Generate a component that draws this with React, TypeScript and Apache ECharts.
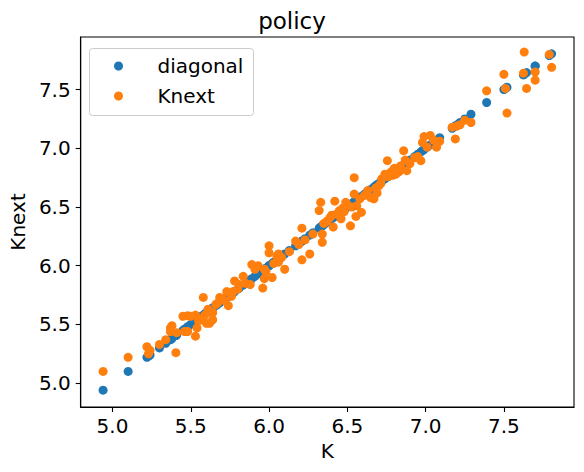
import React, { useEffect, useRef } from "react";
import * as echarts from "echarts";

const K: number[] = [
  4.94, 5.1, 5.22, 5.23, 5.24, 5.3, 5.34, 5.37, 5.37, 5.38, 5.405, 5.41, 5.45, 5.46, 5.48, 5.48,
  5.5, 5.53, 5.53, 5.54, 5.55, 5.57, 5.58, 5.59, 5.6, 5.61, 5.62, 5.64, 5.64, 5.66, 5.67, 5.685,
  5.7, 5.72, 5.73, 5.74, 5.76, 5.77, 5.78, 5.8, 5.81, 5.835, 5.85, 5.88, 5.89, 5.91, 5.93, 5.96,
  5.97, 5.97, 5.98, 6.0, 6.0, 6.02, 6.03, 6.05, 6.06, 6.06, 6.08, 6.1, 6.13, 6.17, 6.19, 6.21,
  6.21, 6.23, 6.26, 6.28, 6.32, 6.33, 6.34, 6.34, 6.35, 6.37, 6.39, 6.4, 6.41, 6.42, 6.43, 6.45,
  6.46, 6.47, 6.48, 6.49, 6.5, 6.52, 6.53, 6.544, 6.544, 6.555, 6.56, 6.58, 6.59, 6.61, 6.63, 6.65,
  6.67, 6.68, 6.69, 6.7, 6.714, 6.72, 6.74, 6.756, 6.76, 6.78, 6.79, 6.8, 6.81, 6.83, 6.84, 6.86,
  6.87, 6.88, 6.9, 6.93, 6.95, 6.97, 6.98, 6.99, 7.01, 7.03, 7.05, 7.07, 7.09, 7.17, 7.19, 7.2,
  7.22, 7.25, 7.29, 7.39, 7.5, 7.51, 7.52, 7.625, 7.645, 7.63, 7.7, 7.7, 7.79, 7.805,
];

const Knext: number[] = [
  5.1, 5.22, 5.31, 5.25, 5.28, 5.33, 5.37, 5.47, 5.44, 5.49, 5.26, 5.43, 5.57, 5.44, 5.44, 5.575,
  5.57, 5.58, 5.4, 5.47, 5.53, 5.55, 5.73, 5.58, 5.51, 5.63, 5.51, 5.6, 5.54, 5.67, 5.68, 5.73,
  5.72, 5.7, 5.78, 5.66, 5.74, 5.78, 5.87, 5.8, 5.84, 5.91, 5.85, 5.84, 6.01, 5.97, 6.0, 5.81,
  5.97, 5.89, 5.95, 6.17, 6.11, 5.9, 6.02, 6.08, 6.1, 6.03, 6.07, 5.97, 6.12, 6.21, 6.18, 6.32,
  6.05, 6.22, 6.1, 6.27, 6.47, 6.54, 6.27, 6.2, 6.36, 6.38, 6.41, 6.43, 6.33, 6.55, 6.44, 6.47,
  6.4, 6.49, 6.46, 6.54, 6.52, 6.34, 6.5, 6.61, 6.75, 6.42, 6.51, 6.57, 6.455, 6.6, 6.64, 6.58,
  6.57, 6.66, 6.62, 6.68, 6.7, 6.74, 6.78, 6.895, 6.76, 6.8, 6.77, 6.83, 6.78, 6.8, 6.85, 6.98,
  6.9, 6.81, 6.87, 6.92, 6.93, 6.895, 7.05, 7.1, 7.01, 7.11, 7.07, 7.01, 7.06, 7.18, 7.08, 7.19,
  7.2, 7.24, 7.22, 7.49, 7.63, 7.51, 7.3, 7.64, 7.51, 7.82, 7.65, 7.58, 7.8, 7.69,
];

const TICKS: number[] = [5.0, 5.5, 6.0, 6.5, 7.0, 7.5];
const AXIS_MIN = 4.797;
const AXIS_MAX = 7.948;

const FONT = "DejaVu Sans";

export default function App() {
  const ref = useRef<HTMLDivElement>(null);

  useEffect(() => {
    if (!ref.current) return;
    const chart = echarts.init(ref.current, undefined, { renderer: "svg" });
    const diagonal = K.map((k) => [k, k]);
    const next = K.map((k, i) => [k, Knext[i]]);

    const axisCommon = {
      type: "value" as const,
      min: AXIS_MIN,
      max: AXIS_MAX,
      splitLine: { show: false },
      axisLine: { show: true, onZero: false, lineStyle: { color: "#000", width: 1.1 } },
      axisTick: {
        show: true,
        inside: false,
        length: 5,
        lineStyle: { color: "#000", width: 1.1 },
        customValues: TICKS,
      },
      axisLabel: {
        show: true,
        customValues: TICKS,
        fontSize: 20,
        color: "#000",
        fontFamily: FONT,
        formatter: (v: number) => v.toFixed(1),
      },
      nameLocation: "middle" as const,
      nameTextStyle: { fontSize: 20, color: "#000", fontFamily: FONT },
    };

    chart.setOption({
      animation: false,
      textStyle: { fontFamily: FONT },
      title: {
        text: "policy",
        left: "center",
        top: 4,
        textStyle: { fontSize: 23, fontWeight: "normal", color: "#000", fontFamily: FONT },
      },
      grid: {
        left: 78,
        top: 37,
        right: 10,
        bottom: 65,
        show: true,
        borderColor: "#000",
        borderWidth: 1.1,
        backgroundColor: "#fff",
      },
      graphic: [
        {
          type: "rect",
          left: 89,
          top: 48,
          z: 50,
          shape: { width: 164, height: 67, r: 3 },
          style: { fill: "rgba(255,255,255,0.8)", stroke: "#cccccc", lineWidth: 1 },
        },
      ],
      legend: {
        orient: "vertical",
        left: 114,
        top: 56,
        padding: 0,
        itemGap: 10,
        itemWidth: 68,
        itemHeight: 9,
        icon: "circle",
        z: 60,
        textStyle: {
          fontSize: 20,
          lineHeight: 20,
          color: "#000",
          fontFamily: FONT,
        },
        data: ["diagonal", "Knext"],
      },
      xAxis: {
        ...axisCommon,
        name: "K",
        nameGap: 32,
        axisLabel: { ...axisCommon.axisLabel, margin: 9 },
      },
      yAxis: {
        ...axisCommon,
        name: "Knext",
        nameGap: 50,
        nameRotate: 90,
        axisLabel: { ...axisCommon.axisLabel, margin: 10 },
      },
      series: [
        {
          name: "diagonal",
          type: "scatter",
          data: diagonal,
          symbolSize: 9,
          itemStyle: { color: "#1f77b4", opacity: 1 },
        },
        {
          name: "Knext",
          type: "scatter",
          data: next,
          symbolSize: 9,
          itemStyle: { color: "#ff7f0e", opacity: 1 },
        },
      ],
    });
    return () => chart.dispose();
  }, []);

  return (
    <div
      ref={ref}
      style={{ position: "fixed", left: 0, top: 0, width: 584, height: 472, background: "#fff" }}
    />
  );
}
